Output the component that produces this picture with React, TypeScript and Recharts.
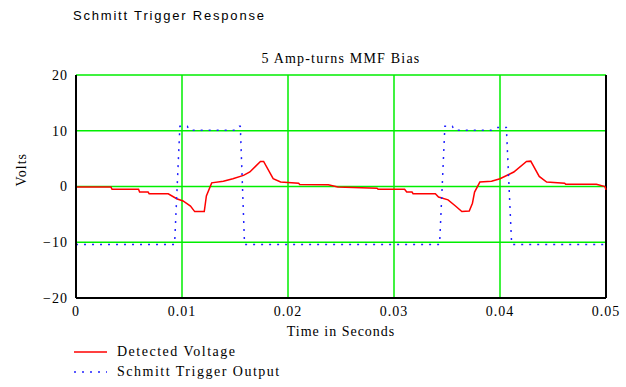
import { LineChart, Line, XAxis, YAxis, CartesianGrid, ReferenceLine } from 'recharts';

// Detected voltage trace (time in s, volts)
const detectedTime = [
  0, 0.0033, 0.0034, 0.0059, 0.006, 0.0068, 0.0069, 0.0087, 0.0095, 0.0101, 0.0108, 0.0112, 0.0121, 0.0123,
  0.0128, 0.0139, 0.0148, 0.0158, 0.0164, 0.0174, 0.0177, 0.0186, 0.0193, 0.021, 0.0211, 0.0238, 0.0247,
  0.0284, 0.0285, 0.031, 0.0312, 0.0317, 0.0318, 0.0339, 0.0342, 0.0351, 0.0358, 0.0364, 0.0371, 0.0374,
  0.0376, 0.0381, 0.0392, 0.04, 0.0413, 0.0425, 0.0429, 0.0437, 0.0444, 0.0461, 0.0462, 0.0491, 0.0499, 0.05,
];
const detectedVolts = [
  -0.1, -0.1, -0.5, -0.5, -1.0, -1.0, -1.3, -1.3, -2.2, -2.6, -3.5, -4.5, -4.5, -1.7,
  0.65, 0.95, 1.4, 2.0, 2.6, 4.5, 4.5, 1.4, 0.8, 0.6, 0.35, 0.3, -0.1,
  -0.3, -0.5, -0.5, -1.0, -1.0, -1.3, -1.3, -1.9, -2.4, -3.5, -4.5, -4.4, -3.0,
  -1.0, 0.8, 0.95, 1.4, 2.6, 4.5, 4.55, 1.8, 0.8, 0.6, 0.4, 0.4, 0.0, -0.6,
];

// Schmitt trigger output
const triggerTime = [
  0, 0.0093, 0.0098, 0.0105, 0.0107, 0.015, 0.0154, 0.0155, 0.0159, 0.0343, 0.0348, 0.0355, 0.0357, 0.0392,
  0.0397, 0.0406, 0.0411, 0.05,
];
const triggerVolts = [
  -10.4, -10.4, 10.8, 10.8, 10.1, 10.1, 10.8, 10.8, -10.4, -10.4, 10.8, 10.8, 10.1, 10.1,
  10.6, 10.6, -10.4, -10.4,
];

const xTicks = [0, 0.01, 0.02, 0.03, 0.04, 0.05];
const yTicks = [-20, -10, 0, 10, 20];

const detected = detectedTime.map((t, i) => ({ t, v: detectedVolts[i] }));
const trigger = triggerTime.map((t, i) => ({ t, v: triggerVolts[i] }));

const serif = '"Liberation Serif", "Times New Roman", serif';
const textStyle = { fill: '#000', fontFamily: serif, fontSize: 14, letterSpacing: 1 };

export default function App() {
  return (
    <div style={{ position: 'absolute', left: 0, top: 0, width: 626, height: 387, background: '#fff' }}>
      <div style={{ position: 'absolute', left: 73, top: 8, fontFamily: '"Liberation Sans", Arial, sans-serif', fontSize: 13, letterSpacing: 1.8 }}>
        Schmitt Trigger Response
      </div>
      <div style={{ position: 'absolute', left: 76, width: 530, top: 51, textAlign: 'center', fontFamily: serif, fontSize: 14, letterSpacing: 1.2 }}>
        5 Amp-turns MMF Bias
      </div>
      <LineChart width={626} height={387} margin={{ top: 75, right: 20, bottom: 59, left: 16 }}>
        <CartesianGrid stroke="#00ee00" strokeWidth={1.5} />
        <XAxis
          dataKey="t"
          type="number"
          domain={[0, 0.05]}
          ticks={xTicks}
          height={30}
          tickLine={false}
          axisLine={{ stroke: '#000', strokeWidth: 2 }}
          tick={textStyle}
          label={{ value: 'Time in Seconds', position: 'insideBottom', offset: -8, ...textStyle }}
        />
        <YAxis
          type="number"
          domain={[-20, 20]}
          ticks={yTicks}
          width={60}
          tickLine={false}
          tickFormatter={(v: number) => (v < 0 ? '\u2212' + Math.abs(v) : String(v))}
          axisLine={{ stroke: '#000', strokeWidth: 2 }}
          tick={textStyle}
          label={{ value: 'Volts', angle: -90, position: 'insideLeft', offset: 5, ...textStyle }}
        />
        <ReferenceLine x={0.05} stroke="#000" strokeWidth={2} />
        <Line data={detected} dataKey="v" type="linear" stroke="#ff0000" strokeWidth={1.5} dot={false} isAnimationActive={false} />
        <Line data={trigger} dataKey="v" type="linear" stroke="#2222ff" strokeWidth={1.5} strokeDasharray="2 6" dot={false} isAnimationActive={false} />
      </LineChart>
      <div style={{ position: 'absolute', left: 74, top: 342, fontFamily: serif, fontSize: 14, letterSpacing: 1.5, color: '#000' }}>
        <div style={{ display: 'flex', alignItems: 'center', height: 20 }}>
          <svg width={40} height={10}>
            <line x1={0} y1={5} x2={33} y2={5} stroke="#ff0000" strokeWidth={1.5} />
          </svg>
          <span style={{ marginLeft: 3 }}>Detected Voltage</span>
        </div>
        <div style={{ display: 'flex', alignItems: 'center', height: 20 }}>
          <svg width={40} height={10}>
            <line x1={0} y1={5} x2={33} y2={5} stroke="#2222ff" strokeWidth={1.5} strokeDasharray="2 6" />
          </svg>
          <span style={{ marginLeft: 3 }}>Schmitt Trigger Output</span>
        </div>
      </div>
    </div>
  );
}
